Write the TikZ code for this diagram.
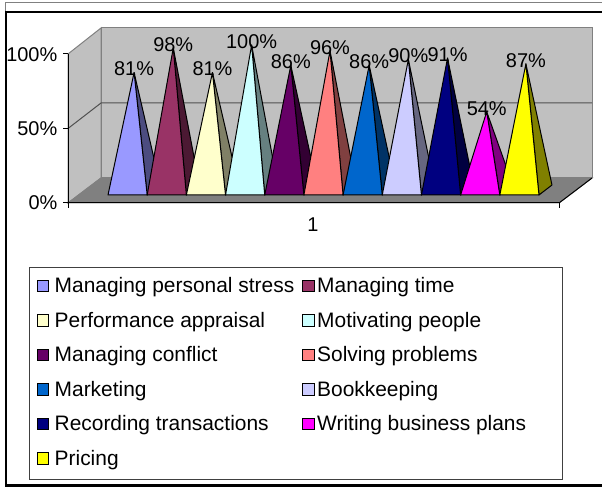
\documentclass[tikz,border=0pt]{standalone}
\usepackage{fontspec}
\setmainfont{Liberation Sans}
\definecolor{wallgray}{HTML}{C0C0C0}
\definecolor{floorgray}{HTML}{808080}
\definecolor{edgegray}{HTML}{808080}
\definecolor{gridgray}{HTML}{505050}
\definecolor{cA}{HTML}{9999FF}
\definecolor{cB}{HTML}{993366}
\definecolor{cC}{HTML}{FFFFCC}
\definecolor{cD}{HTML}{CCFFFF}
\definecolor{cE}{HTML}{660066}
\definecolor{cF}{HTML}{FF8080}
\definecolor{cG}{HTML}{0066CC}
\definecolor{cH}{HTML}{CCCCFF}
\definecolor{cI}{HTML}{000080}
\definecolor{cJ}{HTML}{FF00FF}
\definecolor{cK}{HTML}{FFFF00}
\begin{document}
\begin{tikzpicture}[x=1bp,y=-1bp,
  lbl/.style={font=\fontsize{20}{21}\selectfont, inner sep=0pt},
  legtext/.style={font=\fontsize{21}{22}\selectfont, inner sep=0pt, anchor=base west},
  legsq/.style={draw=black, line width=0.9bp, minimum size=11.5bp, inner sep=0pt},
  wallstyle/.style={fill=wallgray, draw=edgegray, line width=1bp},
  pyr/.style={draw=black, line width=1bp, line join=round},
  axisline/.style={draw=black, line width=1bp}
]
\useasboundingbox (0,0) rectangle (602,490);
% outer frame
\draw[edgegray, line width=1bp] (5,12) -- (5,3) -- (602,3);
\draw[black, line width=2.2bp] (5,12) -- (602,12);
\draw[black, line width=1.5bp] (6,12) -- (6,486);
\draw[black, line width=2.2bp] (5,485.5) -- (602,485.5);
% walls and floor
\draw[wallstyle] (68,54) -- (101,28) -- (101,178) -- (68,203) -- cycle;
\draw[wallstyle] (101,28) rectangle (592,178);
\draw[fill=floorgray, draw=edgegray, line width=1bp] (68,203) -- (101,178) -- (592,178) -- (559,203) -- cycle;
\draw[black, line width=1bp] (559,203) -- (592,178);
% gridline 50%
\draw[gridgray, line width=1bp] (68,128.5) -- (101,103) -- (592,103);
% axes
\draw[axisline] (68,54) -- (68,208);
\draw[axisline] (63,54) -- (68,54);
\draw[axisline] (63,128.5) -- (68,128.5);
\draw[axisline] (63,203) -- (68,203);
\draw[axisline] (68,203) -- (559,203) -- (559,208);
\node[lbl, anchor=east] (y100) at (57.5,54.5) {100\%};
\node[lbl, anchor=east] (y50) at (57.5,128.5) {50\%};
\node[lbl, anchor=east] (y0) at (57.5,203) {0\%};
\node[lbl] (cat) at (313,225) {1};
% pyramids
\foreach \i/\h/\c in {0/81/cA,1/98/cB,2/81/cC,3/100/cD,4/86/cE,5/96/cF,6/86/cG,7/90/cH,8/91/cI,9/54/cJ,10/87/cK} {
  \pgfmathsetmacro\xl{108+39.18*\i}
  \pgfmathsetmacro\xr{\xl+39.18}
  \pgfmathsetmacro\ax{\xl+19.59+6.5}
  \pgfmathsetmacro\ay{190-\h*1.45}
  \draw[pyr, fill=\c!50!black] (\xr,195) -- (\xr+13,185) -- (\ax,\ay) -- cycle;
  \draw[pyr, fill=\c] (\xl,195) -- (\xr,195) -- (\ax,\ay) -- cycle;
}
\foreach \i/\h in {0/81,1/98,2/81,3/100,4/86,5/96,6/86,7/90,8/91,9/54,10/87} {
  \pgfmathsetmacro\ax{108+39.18*\i+19.59+6.5}
  \pgfmathsetmacro\ay{190-\h*1.45-3.5}
  \node[lbl] (v\i) at (\ax,\ay) {\h\%};
}
% legend
\draw[draw=black!75, line width=1bp] (29,267) rectangle (562,479);
\foreach \r/\ca/\ta/\cb/\tb in {
  0/cA/Managing personal stress/cB/Managing time,
  1/cC/Performance appraisal/cD/Motivating people,
  2/cE/Managing conflict/cF/Solving problems,
  3/cG/Marketing/cH/Bookkeeping,
  4/cI/Recording transactions/cJ/Writing business plans} {
  \pgfmathsetmacro\ry{286+34.5*\r}
  \node[legsq, fill=\ca] (sa\r) at (43,\ry) {};
  \node[legtext] (ta\r) at (54.5,\ry+6.8) {\ta};
  \node[legsq, fill=\cb] (sb\r) at (308.5,\ry) {};
  \node[legtext] (tb\r) at (317,\ry+6.8) {\tb};
}
\node[legsq, fill=cK] (sa5) at (43,458.5) {};
\node[legtext] (ta5) at (54.5,465.3) {Pricing};
\end{tikzpicture}
\end{document}
